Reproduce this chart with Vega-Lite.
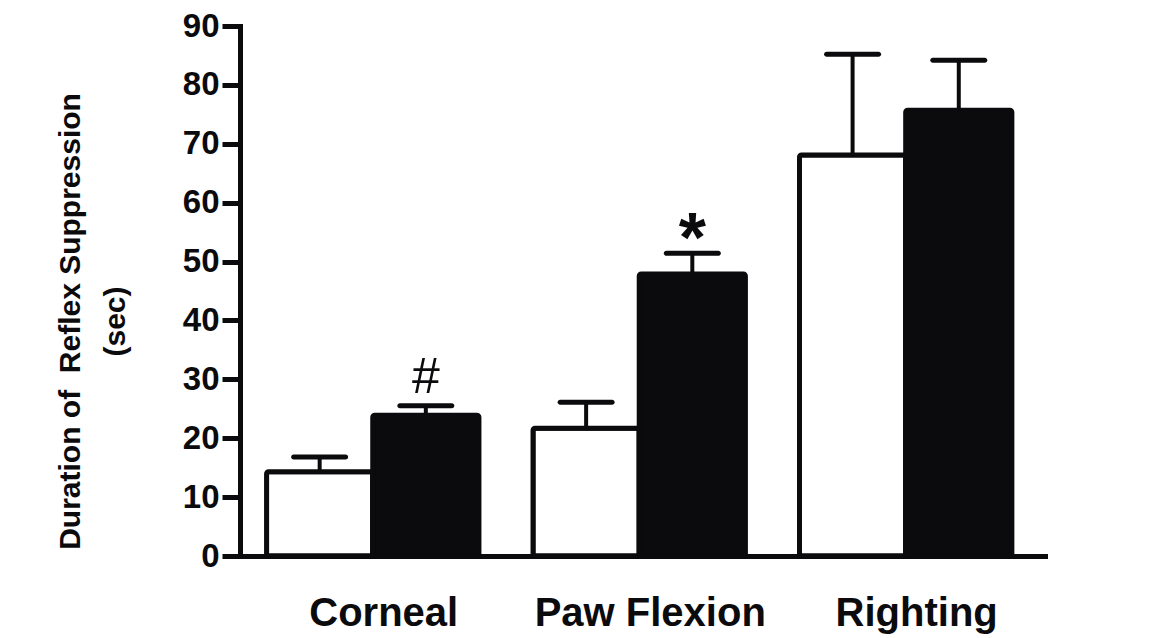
{
  "$schema": "https://vega.github.io/schema/vega-lite/v6.json",
  "width": 805,
  "height": 530,
  "autosize": {"type": "none"},
  "padding": {"left": 240, "top": 26, "right": 113, "bottom": 82},
  "background": "white",
  "config": {"view": {"stroke": null}, "font": "Liberation Sans"},
  "data": {"values": [
    {"reflex": "Corneal", "group": "A", "mean": 14.3, "upper": 16.8, "note": ""},
    {"reflex": "Corneal", "group": "B", "mean": 23.9, "upper": 25.5, "note": "#"},
    {"reflex": "Paw Flexion", "group": "A", "mean": 21.7, "upper": 26.1, "note": ""},
    {"reflex": "Paw Flexion", "group": "B", "mean": 47.9, "upper": 51.4, "note": "*"},
    {"reflex": "Righting", "group": "A", "mean": 68.1, "upper": 85.2, "note": ""},
    {"reflex": "Righting", "group": "B", "mean": 75.7, "upper": 84.2, "note": ""}
  ]},
  "encoding": {
    "x": {
      "field": "reflex", "type": "nominal", "sort": null,
      "scale": {"paddingInner": 0.203, "paddingOuter": 0.112, "align": 0.445},
      "axis": {
        "title": null, "labelAngle": 0, "ticks": false, "labelLimit": 0,
        "labelFont": "Liberation Sans", "labelFontWeight": "bold", "labelFontSize": 40,
        "labelColor": "#0b0b0d", "labelPadding": 37, "labelOffset": 11,
        "domainColor": "#0b0b0d", "domainWidth": 5, "domainCap": "square"
      }
    },
    "xOffset": {"field": "group", "type": "nominal", "scale": {"paddingInner": 0, "paddingOuter": 0}}
  },
  "layer": [
    {
      "mark": {"type": "rule", "strokeWidth": 4, "color": "#0b0b0d"},
      "encoding": {
        "y": {"field": "mean", "type": "quantitative", "scale": {"domain": [0, 90], "nice": false},
          "axis": {
            "values": [0, 10, 20, 30, 40, 50, 60, 70, 80, 90], "grid": false,
            "labelFont": "Liberation Sans", "labelFontWeight": "bold", "labelFontSize": 33,
            "labelColor": "#0b0b0d", "labelPadding": 3,
            "domainColor": "#0b0b0d", "domainWidth": 5, "domainCap": "square",
            "tickColor": "#0b0b0d", "tickWidth": 5, "tickSize": 18,
            "title": ["Duration of\u00a0\u00a0Reflex Suppression", "(sec)"],
            "titleFont": "Liberation Sans", "titleFontWeight": "bold", "titleFontSize": 30,
            "titleColor": "#0b0b0d", "titleLineHeight": 45,
            "titleX": -170, "titleY": 295, "titleAlign": "center", "titleBaseline": "middle", "titleAngle": -90
          }
        },
        "y2": {"field": "upper"}
      }
    },
    {
      "mark": {"type": "bar", "strokeWidth": 5, "stroke": "#0b0b0d", "cornerRadius": 2},
      "encoding": {
        "y": {"field": "mean", "type": "quantitative"},
        "fill": {"field": "group", "type": "nominal", "scale": {"domain": ["A", "B"], "range": ["#ffffff", "#0b0b0d"]}, "legend": null}
      }
    },
    {
      "mark": {"type": "tick", "orient": "horizontal", "thickness": 5, "size": 57, "color": "#0b0b0d", "cornerRadius": 2.5, "opacity": 1},
      "encoding": {"y": {"field": "upper", "type": "quantitative"}}
    },
    {
      "transform": [{"filter": "datum.note == '#'"}],
      "mark": {"type": "text", "fontSize": 50, "baseline": "alphabetic", "dy": -13, "color": "#0b0b0d", "font": "Liberation Sans"},
      "encoding": {"y": {"field": "upper", "type": "quantitative"}, "text": {"field": "note"}}
    },
    {
      "transform": [{"filter": "datum.note == '*'"}],
      "mark": {"type": "text", "fontSize": 70, "fontWeight": "bold", "baseline": "alphabetic", "dy": 9, "color": "#0b0b0d", "font": "Liberation Sans"},
      "encoding": {"y": {"field": "upper", "type": "quantitative"}, "text": {"field": "note"}}
    }
  ]
}
